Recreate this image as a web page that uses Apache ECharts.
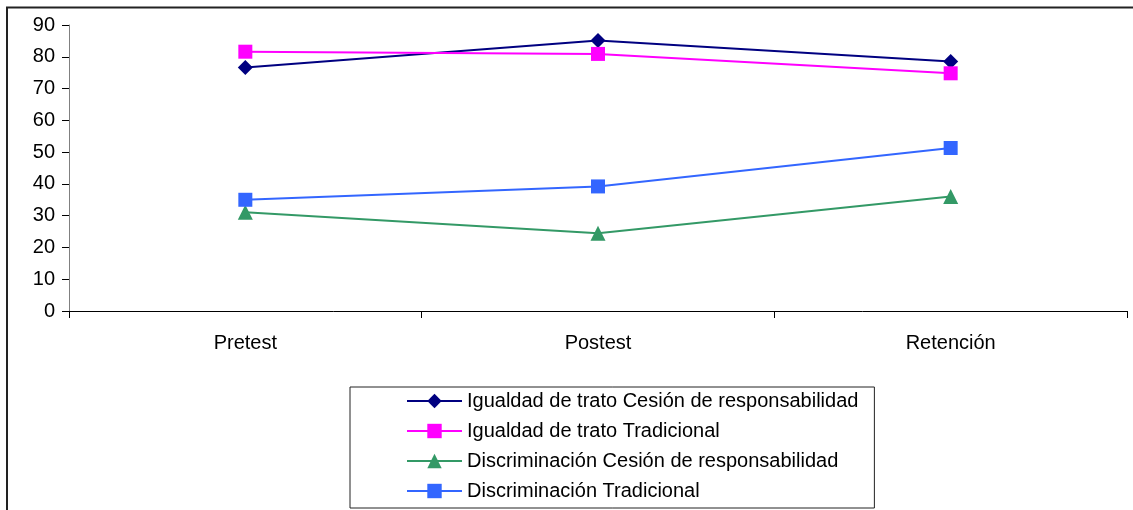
<!DOCTYPE html>
<html>
<head>
<meta charset="utf-8">
<script src="https://cdn.jsdelivr.net/npm/echarts@6/dist/echarts.min.js"></script>
<style>
  html, body { margin: 0; padding: 0; background: #fff; }
  #chart { width: 1133px; height: 510px; }
</style>
</head>
<body>
<div id="chart"></div>
<script>
// Test phases on the category axis
const phases = ['Pretest', 'Postest', 'Retención'];

// Scores per group and phase
const igualdadCesion = [76.6, 85.1, 78.5];
const igualdadTradicional = [81.6, 80.9, 74.8];
const discriminacionCesion = [31.1, 24.5, 36.0];
const discriminacionTradicional = [35.0, 39.2, 51.3];

// Value axis range
const yMin = 0;
const yMax = 90;
const yStep = 10;

const FONT = '"Liberation Sans", Arial, sans-serif';

function lineSeries(name, data, color, symbol, size) {
  return {
    name: name,
    type: 'line',
    data: data,
    symbol: symbol,
    symbolSize: size,
    showAllSymbol: true,
    lineStyle: { color: color, width: 2 },
    itemStyle: { color: color },
    emphasis: { disabled: true },
    animation: false,
    z: 3
  };
}

const chart = echarts.init(document.getElementById('chart'), null, { renderer: 'canvas' });

chart.setOption({
  backgroundColor: '#ffffff',
  animation: false,
  graphic: [{
    type: 'rect',
    shape: { x: 7, y: 7.5, width: 1300, height: 700 },
    style: { fill: 'none', stroke: '#222222', lineWidth: 2 },
    silent: true,
    z: 0
  }],
  grid: { left: 69, right: 6, top: 25, bottom: 199, containLabel: false },
  xAxis: {
    type: 'category',
    data: phases,
    boundaryGap: true,
    axisLine: { show: true, lineStyle: { color: '#000000', width: 1 } },
    axisTick: { show: true, length: 7, inside: false, lineStyle: { color: '#000000' } },
    axisLabel: { color: '#000000', fontFamily: FONT, fontSize: 20, margin: 22 },
    splitLine: { show: false }
  },
  yAxis: {
    type: 'value',
    min: yMin,
    max: yMax,
    interval: yStep,
    axisLine: { show: true, lineStyle: { color: '#808080', width: 1 } },
    axisTick: { show: true, length: 7, inside: false, lineStyle: { color: '#000000' } },
    axisLabel: { color: '#000000', fontFamily: FONT, fontSize: 20, margin: 14 },
    splitLine: { show: false }
  },
  legend: {
    orient: 'vertical',
    left: 350,
    top: 387,
    padding: [4, 16, 7, 56],
    itemWidth: 55,
    itemHeight: 18,
    itemGap: 10,
    borderColor: '#222222',
    borderWidth: 1,
    selectedMode: false,
    textStyle: { color: '#000000', fontFamily: FONT, fontSize: 20, lineHeight: 20 },
    data: [
      'Igualdad de trato Cesión de responsabilidad',
      'Igualdad de trato Tradicional',
      'Discriminación Cesión de responsabilidad',
      'Discriminación Tradicional'
    ]
  },
  series: [
    lineSeries('Igualdad de trato Cesión de responsabilidad', igualdadCesion, '#000080', 'diamond', 15),
    lineSeries('Igualdad de trato Tradicional', igualdadTradicional, '#FF00FF', 'rect', 14),
    lineSeries('Discriminación Cesión de responsabilidad', discriminacionCesion, '#339966', 'triangle', 15),
    lineSeries('Discriminación Tradicional', discriminacionTradicional, '#3366FF', 'rect', 14)
  ]
});
</script>
</body>
</html>
